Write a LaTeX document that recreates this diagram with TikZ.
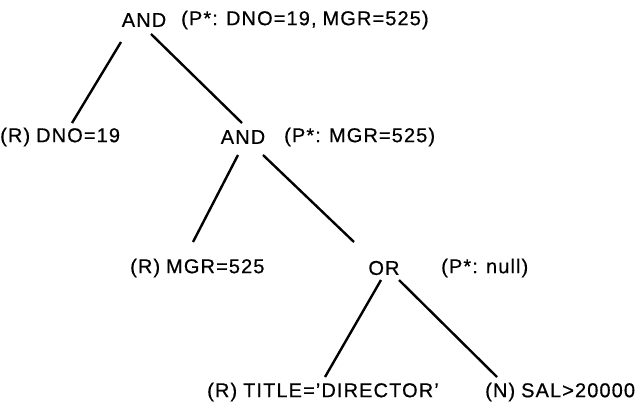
\documentclass[tikz,border=0pt]{standalone}
\usepackage{fontspec}
\setmainfont[LetterSpace=5.5,WordSpace=0.9,FakeBold=0.6]{Liberation Sans}
\begin{document}
\begin{tikzpicture}[x=1pt,y=-1pt,
  lbl/.style={font=\fontsize{20}{22}\selectfont, inner sep=0pt, anchor=west},
  op/.style={font=\fontsize{20}{22}\selectfont, inner sep=0pt},
  branch/.style={line width=2.4pt}]
\useasboundingbox (0,0) rectangle (642,410);

% operator nodes and their P* annotations
\node[op] (and1) at (144,20) {AND};
\node[lbl] (p1) at (181,20) {(P*: DNO=19, MGR=525)};
\node[op] (and2) at (243,137) {AND};
\node[lbl] (p2) at (284,137) {(P*: MGR=525)};
\node[op] (or1) at (384,268) {OR};
\node[lbl] (p3) at (441,268) {(P*: null)};

% leaf predicates
\node[lbl] (dno) at (0,137) {(R) DNO=19};
\node[lbl] (mgr) at (130,268) {(R) MGR=525};
\node[lbl] (title) at (207,392) {(R) TITLE='DIRECTOR'};
\node[lbl] (sal) at (485,392) {(N) SAL>20000};

% branch end points
\coordinate (a1l) at (121,42);  \coordinate (dnot) at (72,123);
\coordinate (a1r) at (151,34);  \coordinate (a2t) at (242,123);
\coordinate (a2l) at (238,155); \coordinate (mgrt) at (193,242);
\coordinate (a2r) at (263,155); \coordinate (ort) at (354,242);
\coordinate (orl) at (381,280); \coordinate (titlet) at (325,377);
\coordinate (orr) at (399,280); \coordinate (salt) at (497,377);

\draw[branch] (a1l) -- (dnot);
\draw[branch] (a1r) -- (a2t);
\draw[branch] (a2l) -- (mgrt);
\draw[branch] (a2r) -- (ort);
\draw[branch] (orl) -- (titlet);
\draw[branch] (orr) -- (salt);
\end{tikzpicture}
\end{document}
